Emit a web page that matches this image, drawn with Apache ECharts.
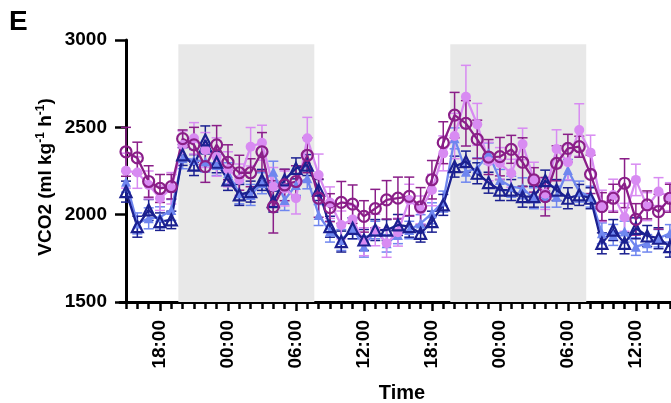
<!DOCTYPE html>
<html><head><meta charset="utf-8">
<script src="https://cdn.jsdelivr.net/npm/echarts@6/dist/echarts.min.js"></script>
<style>html,body{margin:0;padding:0;background:#fff}#c{width:671px;height:403px}</style>
</head><body><div id="c"></div><script>
// hour index 0 = 15:00 on day 1, one point per hour
const tickPositions = [3, 9, 15, 21, 27, 33, 39, 45];
const tickLabels = ['18:00','00:00','06:00','12:00','18:00','00:00','06:00','12:00'];
const darkStart = [4.62, 28.62];
const darkEnd = [16.62, 40.62];

const purple = [2360,2325,2190,2150,2160,2435,2400,2275,2400,2300,2240,2240,2360,2045,2170,2190,2340,2095,2040,2070,2060,1990,2035,2085,2095,2105,2045,2200,2412,2570,2523,2431,2330,2332,2374,2300,2199,2103,2294,2380,2389,2231,2046,2094,2180,1973,2056,2017,2094];
const purpleErr = [140,90,90,80,70,50,100,90,110,100,100,80,110,150,90,90,100,110,80,120,110,90,110,110,120,110,110,110,120,130,130,110,100,110,80,140,70,110,100,80,60,110,80,80,140,90,80,100,80];
const violet = [2252,2241,2170,2094,2151,2399,2437,2370,2330,2260,2200,2389,2412,2160,2150,2094,2437,2227,2069,1941,1973,1845,1912,1836,1900,2084,2027,2141,2351,2450,2675,2517,2304,2294,2237,2405,2200,2120,2376,2300,2485,2355,2050,2113,1985,2199,2046,2132,2103];
const violetErr = [100,90,80,70,90,80,90,100,110,100,90,110,100,110,100,90,120,120,90,80,80,80,90,80,80,90,80,90,100,130,180,120,110,90,80,90,100,90,110,100,150,100,90,90,80,90,80,80,80];
const lightBlue = [2189,1950,1979,1985,2027,2323,2313,2304,2284,2237,2122,2113,2180,2246,2084,2170,2208,1998,1903,1855,1922,1817,1912,1836,1884,1912,1950,2008,2075,2437,2246,2265,2351,2199,2160,2151,2094,2103,2103,2256,2132,2103,1893,1884,1903,1817,1836,1865,1893];
const lightBlueErr = [60,60,60,60,60,60,60,60,60,60,60,60,60,60,60,60,60,60,60,60,60,60,50,50,50,50,50,60,60,60,60,60,60,60,60,60,60,60,60,60,60,60,60,60,60,50,50,50,50];
const navy = [2132,1931,2027,1960,1970,2342,2284,2428,2300,2199,2113,2132,2199,2075,2199,2265,2284,2141,1931,1846,1922,1855,1912,1912,1941,1931,1893,1960,2056,2275,2304,2237,2183,2141,2141,2103,2103,2195,2141,2094,2113,2094,1836,1912,1836,1922,1878,1865,1817];
const navyErr = [60,60,60,50,50,60,60,80,60,60,60,60,60,60,60,60,60,60,60,60,60,60,60,60,60,60,50,60,60,60,60,60,60,60,60,60,60,60,60,60,60,60,60,60,60,60,60,60,60];

const C_PURPLE = '#8A1E88', C_VIOLET = '#D88BF2', C_LBLUE = '#6F86EF', C_NAVY = '#1B2090';
const FONT = 'Liberation Sans, Arial, sans-serif';

function errSeries(vals, errs, color) {
  return {
    type: 'custom', z: 1, silent: true,
    data: vals.map((v, i) => [i, v - errs[i], v + errs[i]]),
    renderItem: function (params, api) {
      const x = api.value(0);
      const lo = api.coord([x, api.value(1)]);
      const hi = api.coord([x, api.value(2)]);
      const w = 5;
      const st = { stroke: color, lineWidth: 1.5 };
      return { type: 'group', children: [
        { type: 'line', shape: { x1: lo[0], y1: lo[1], x2: hi[0], y2: hi[1] }, style: st },
        { type: 'line', shape: { x1: hi[0] - w, y1: hi[1], x2: hi[0] + w, y2: hi[1] }, style: st },
        { type: 'line', shape: { x1: lo[0] - w, y1: lo[1], x2: lo[0] + w, y2: lo[1] }, style: st }
      ]};
    }
  };
}
function lineSeries(vals, color, symbol, size, hollow) {
  return {
    type: 'line', z: 3, data: vals.map((v, i) => [i, v]),
    symbol: symbol, symbolSize: size, showAllSymbol: true,
    lineStyle: { color: color, width: 2.3 },
    itemStyle: hollow ? { color: 'rgba(255,255,255,0)', borderColor: color, borderWidth: 2.2 } : { color: color, borderWidth: 0 },
    emphasis: { disabled: true }, animation: false
  };
}

const hourTicks = purple.map((v, i) => i);
const chart = echarts.init(document.getElementById('c'), null, { renderer: 'canvas' });
chart.setOption({
  animation: false,
  backgroundColor: '#ffffff',
  grid: { left: 120, right: 0, top: 40, bottom: 101, containLabel: false },
  xAxis: [{
    type: 'value', min: -0.53, max: 48.1,
    axisLine: { lineStyle: { color: '#000', width: 3 } },
    axisTick: { customValues: hourTicks, length: 7, lineStyle: { color: '#000', width: 2.5 } },
    axisLabel: { show: false }, splitLine: { show: false }
  }, {
    type: 'value', min: -0.53, max: 48.1, position: 'bottom',
    axisLine: { show: false },
    axisTick: { customValues: tickPositions, length: 9, lineStyle: { color: '#000', width: 2.5 } },
    axisLabel: { customValues: tickPositions, rotate: 90, margin: 18, color: '#000', fontFamily: FONT, fontWeight: 'bold', fontSize: 19,
      formatter: function (v) { const k = tickPositions.indexOf(Math.round(v)); return k >= 0 ? tickLabels[k] : ''; } },
    splitLine: { show: false }
  }],
  yAxis: {
    type: 'value', min: 1500, max: 3000, interval: 500,
    axisLine: { show: true, lineStyle: { color: '#000', width: 3 } },
    axisTick: { length: 11, lineStyle: { color: '#000', width: 2.5 } },
    axisLabel: { margin: 13, color: '#000', fontFamily: FONT, fontWeight: 'bold', fontSize: 19, formatter: function (v) { return String(v); } },
    splitLine: { show: false }
  },
  graphic: [
    { type: 'text', left: 9, top: 8, style: { text: 'E', fontFamily: FONT, fontWeight: 'bold', fontSize: 28, fill: '#000' } },
    { type: 'text', x: 402, y: 393, style: { text: 'Time', fontFamily: FONT, fontWeight: 'bold', fontSize: 20, fill: '#000', align: 'center', verticalAlign: 'middle' } },
    { type: 'text', x: 46, y: 177, rotation: Math.PI / 2,
      style: { text: '{b|VCO2 (ml kg}{s|-1}{b| h}{s|-1}{b|)}', align: 'center', verticalAlign: 'middle', fill: '#000',
        rich: { b: { fontFamily: FONT, fontWeight: 'bold', fontSize: 19, fill: '#000', lineHeight: 22 },
                s: { fontFamily: FONT, fontWeight: 'bold', fontSize: 12, fill: '#000', verticalAlign: 'top', lineHeight: 22, padding: [0, 0, 9, 0] } } } }
  ],
  series: [
    { type: 'line', data: [], z: 0, silent: true,
      markArea: { silent: true, itemStyle: { color: '#E8E8E8' },
        data: darkStart.map((s, k) => [{ xAxis: s, yAxis: 1500 }, { xAxis: darkEnd[k], yAxis: 2975 }]) } },
    errSeries(lightBlue, lightBlueErr, C_LBLUE),
    errSeries(navy, navyErr, C_NAVY),
    errSeries(violet, violetErr, C_VIOLET),
    errSeries(purple, purpleErr, C_PURPLE),
    lineSeries(lightBlue, C_LBLUE, 'triangle', 10, false),
    lineSeries(violet, C_VIOLET, 'circle', 10, false),
    lineSeries(navy, C_NAVY, 'triangle', 11, true),
    lineSeries(purple, C_PURPLE, 'circle', 11, true)
  ]
});
</script></body></html>
